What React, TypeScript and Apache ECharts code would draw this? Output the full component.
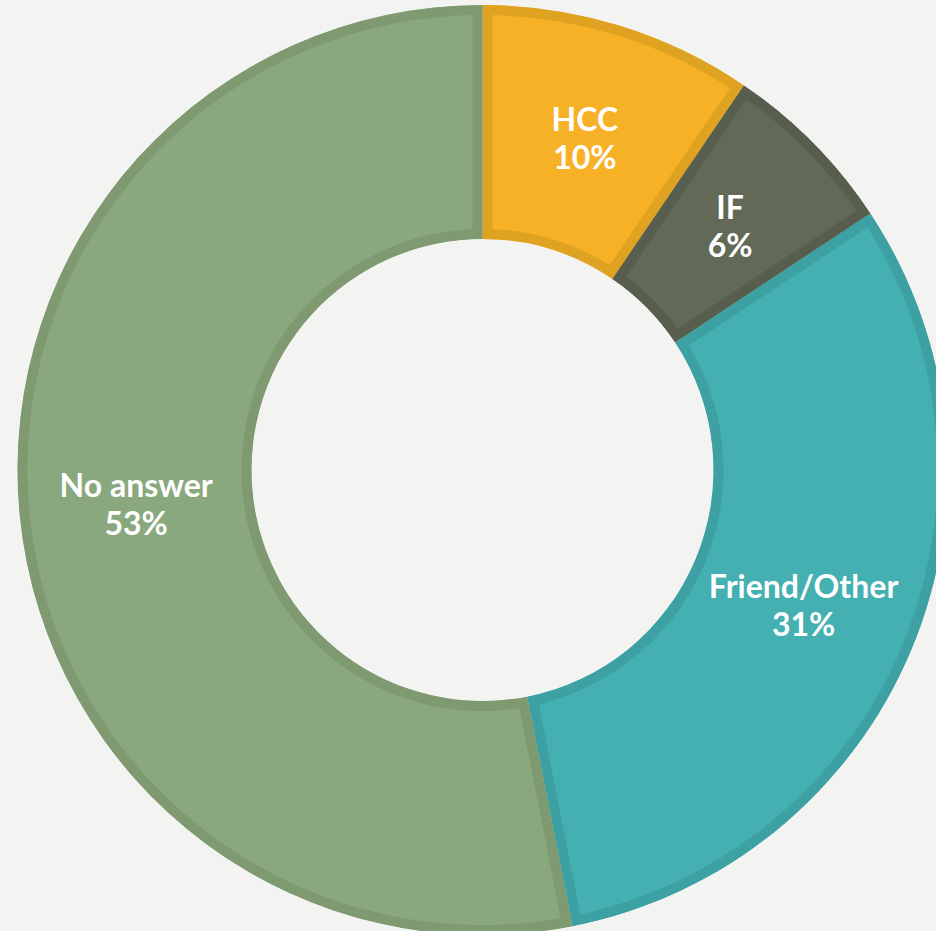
import { useEffect, useRef } from 'react';
import * as echarts from 'echarts';

const categories = ['HCC', 'IF', 'Friend/Other', 'No answer'];
const values = [9.5, 6.2, 31.2, 53.1];
const percentLabels = ['10%', '6%', '31%', '53%'];
const fillColors = ['#f7b126', '#626a57', '#44b0b1', '#8aa87d'];
const edgeColors = ['#e0a221', '#585e4e', '#3da1a4', '#7f9a71'];

const INNER = 231;
const OUTER = 465;
const EDGE = 10;

export default function App() {
  const ref = useRef<HTMLDivElement>(null);
  useEffect(() => {
    const chart = echarts.init(ref.current!, null, { renderer: 'svg' });
    const total = values.reduce((a, b) => a + b, 0);
    let acc = 0;
    const data = values.map((v, i) => {
      const d = { name: categories[i], value: [acc, acc + v] };
      acc += v;
      return d;
    });
    chart.setOption({
      animation: false,
      backgroundColor: '#f3f3f1',
      polar: { center: [482.5, 470], radius: [0, OUTER] },
      angleAxis: { type: 'value', min: 0, max: total, startAngle: 90, clockwise: true, show: false },
      radiusAxis: { type: 'value', min: 0, max: OUTER, show: false },
      series: [
        {
          type: 'custom',
          coordinateSystem: 'polar',
          silent: true,
          data,
          renderItem: (params: any, api: any) => {
            const i = params.dataIndex;
            const cs = params.coordSys;
            const s = api.value(0);
            const e = api.value(1);
            const p0 = api.coord([OUTER, s]);
            const p1 = api.coord([OUTER, e]);
            const pin = api.coord([INNER, s]);
            let sa = -p0[3];
            let ea = -p1[3];
            while (ea <= sa) ea += Math.PI * 2;
            const shape = { cx: cs.cx, cy: cs.cy, r0: pin[2], r: p0[2], startAngle: sa, endAngle: ea, clockwise: true };
            const mid = api.coord([(INNER + OUTER) / 2, (s + e) / 2]);
            return {
              type: 'group',
              children: [
                {
                  type: 'sector',
                  shape,
                  style: { fill: fillColors[i], stroke: edgeColors[i], lineWidth: EDGE * 2 },
                  clipPath: { type: 'sector', shape: { ...shape } },
                },
                {
                  type: 'text',
                  x: mid[0],
                  y: mid[1],
                  style: {
                    text: categories[i] + '\n' + percentLabels[i],
                    fill: '#ffffff',
                    fontSize: 32,
                    fontWeight: 'bold',
                    fontFamily: 'Lato',
                    align: 'center',
                    verticalAlign: 'middle',
                    lineHeight: 38,
                  },
                },
              ],
            };
          },
        },
      ],
    });
    return () => chart.dispose();
  }, []);
  return <div ref={ref} style={{ position: 'fixed', left: 0, top: 0, width: 936, height: 931 }} />;
}
